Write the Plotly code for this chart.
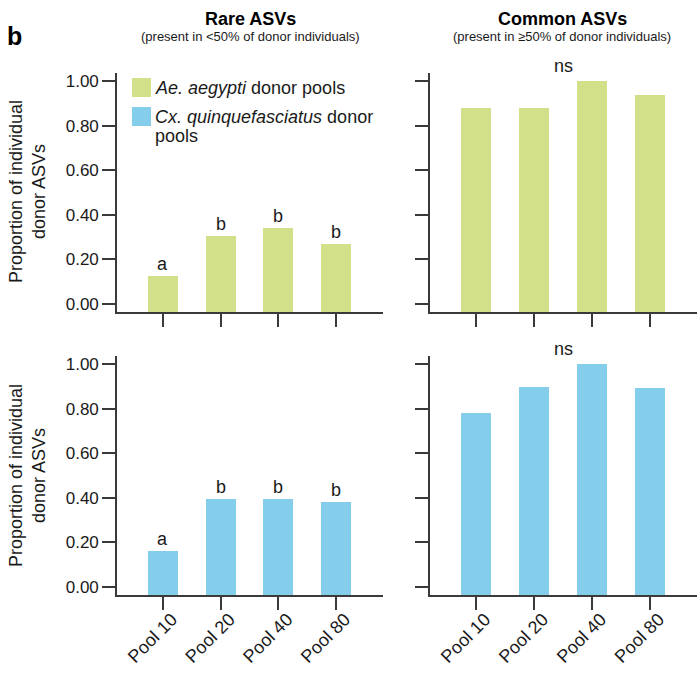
import plotly.graph_objects as go

# ---- data -------------------------------------------------------------
pools = ["Pool 10", "Pool 20", "Pool 40", "Pool 80"]

rare_aedes = [0.122, 0.302, 0.338, 0.266]
common_aedes = [0.878, 0.878, 1.000, 0.937]
rare_culex = [0.160, 0.394, 0.394, 0.381]
common_culex = [0.781, 0.898, 1.000, 0.893]

rare_letters = ["a", "b", "b", "b"]
common_label = "ns"

y_ticks = [0.0, 0.2, 0.4, 0.6, 0.8, 1.0]
y_ticklabels = ["0.00", "0.20", "0.40", "0.60", "0.80", "1.00"]

# ---- styling ----------------------------------------------------------
W, H = 698, 674
FONT = "Liberation Sans, Arial, Helvetica, sans-serif"
GREEN = "#d3e08a"
BLUE = "#84ceec"
AXIS = "#3a3a3a"
TEXT = "#1a1a1a"

Y_RANGE = [-0.038, 1.037]
X_RANGE = [-0.797, 3.813]
BAR_W = 0.52
FLOOR = Y_RANGE[0]


def px_x(p):
    return p / W


def px_y(p):
    return 1 - p / H


# panel domains (pixel edges converted to paper fractions)
left_dom = [px_x(117), px_x(383)]
right_dom = [px_x(430), px_x(697)]
top_dom = [px_y(312), px_y(73)]
bot_dom = [px_y(595), px_y(356)]

fig = go.Figure()

panels = [
    ("x", "y", rare_aedes, GREEN, rare_letters),
    ("x2", "y2", common_aedes, GREEN, None),
    ("x3", "y3", rare_culex, BLUE, rare_letters),
    ("x4", "y4", common_culex, BLUE, None),
]

for xa, ya, vals, col, letters in panels:
    # bars rest on the axis floor and end at the plotted value
    fig.add_trace(go.Bar(
        x=pools, y=[v - FLOOR for v in vals], base=FLOOR,
        width=BAR_W, marker=dict(color=col, line=dict(width=0)),
        xaxis=xa, yaxis=ya, showlegend=False,
        customdata=vals, hovertemplate="%{x}: %{customdata:.2f}<extra></extra>",
    ))
    if letters is not None:
        for p, v, t in zip(pools, vals, letters):
            fig.add_annotation(x=p, y=v, xref=xa, yref=ya, text=t,
                               showarrow=False, xanchor="center", yanchor="bottom",
                               font=dict(family=FONT, size=18, color=TEXT))
    else:
        fig.add_annotation(x=1.5, y=max(vals), xref=xa, yref=ya, text=common_label,
                           showarrow=False, xanchor="center", yanchor="bottom", yshift=3,
                           font=dict(family=FONT, size=18, color=TEXT))

axis_common = dict(
    showline=True, linecolor=AXIS, linewidth=1.6,
    ticks="outside", ticklen=13, tickwidth=1.6, tickcolor=AXIS,
    showgrid=False, zeroline=False, fixedrange=True, automargin=False,
    tickfont=dict(family=FONT, size=17, color=TEXT),
)

x_common = dict(axis_common, type="category", range=X_RANGE,
                categoryorder="array", categoryarray=pools)
y_common = dict(axis_common, range=Y_RANGE, tickmode="array",
                tickvals=y_ticks, ticktext=y_ticklabels)

x_bottom = dict(x_common, tickangle=-45, ticklabelstandoff=-8, ticklabelshift=9,
                tickfont=dict(family=FONT, size=18, color=TEXT))

fig.update_layout(
    xaxis=dict(x_common, domain=left_dom, anchor="y", showticklabels=False),
    yaxis=dict(y_common, domain=top_dom, anchor="x"),
    xaxis2=dict(x_common, domain=right_dom, anchor="y2", showticklabels=False),
    yaxis2=dict(y_common, domain=top_dom, anchor="x2", showticklabels=False),
    xaxis3=dict(x_bottom, domain=left_dom, anchor="y3"),
    yaxis3=dict(y_common, domain=bot_dom, anchor="x3"),
    xaxis4=dict(x_bottom, domain=right_dom, anchor="y4"),
    yaxis4=dict(y_common, domain=bot_dom, anchor="x4", showticklabels=False),
    width=W, height=H, autosize=False,
    margin=dict(l=0, r=0, t=0, b=0, pad=0, autoexpand=False),
    paper_bgcolor="white", plot_bgcolor="white",
    font=dict(family=FONT, color=TEXT),
    bargap=0,
)


def paper_text(x, y, text, size, color=TEXT, xanchor="center", angle=0):
    fig.add_annotation(x=px_x(x), y=px_y(y), xref="paper", yref="paper",
                       text=text, showarrow=False, textangle=angle,
                       xanchor=xanchor, yanchor="middle",
                       font=dict(family=FONT, size=size, color=color))


# panel label, column headers
paper_text(14, 36, "<b>b</b>", 25, "#000000")
headers = [
    (250, "Rare ASVs", "(present in <50% of donor individuals)"),
    (562, "Common ASVs", "(present in ≥50% of donor individuals)"),
]
for cx, title, sub in headers:
    paper_text(cx, 19, f"<b>{title}</b>", 18, "#000000")
    paper_text(cx, 37, sub, 13)

# y-axis titles
for cy in (192, 476):
    paper_text(27, cy, "Proportion of individual<br>donor ASVs", 18, angle=-90)

# legend
legend_rows = [
    (GREEN, 78, ["<i>Ae. aegypti</i> donor pools"]),
    (BLUE, 107, ["<i>Cx. quinquefasciatus</i> donor", "pools"]),
]
for col, top, lines in legend_rows:
    fig.add_shape(type="rect", xref="paper", yref="paper",
                  x0=px_x(132), x1=px_x(151), y0=px_y(top + 19), y1=px_y(top),
                  fillcolor=col, line=dict(width=0))
    for i, line in enumerate(lines):
        paper_text(153, top + 9.5 + 19.5 * i, line, 18, xanchor="left")

fig.write_html("out.html")
